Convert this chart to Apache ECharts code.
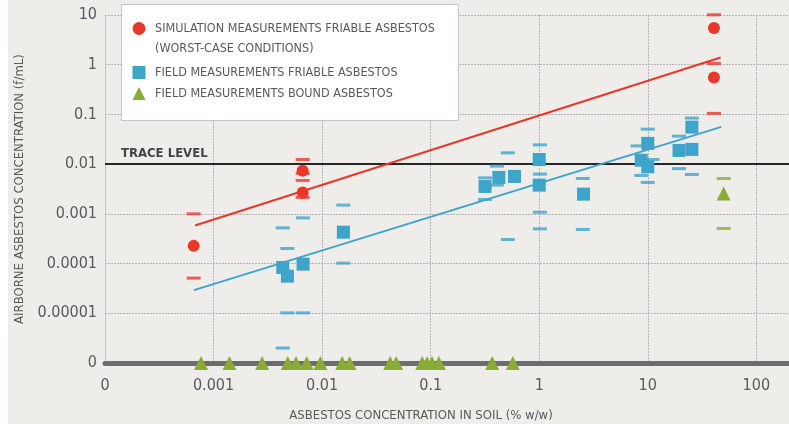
<!DOCTYPE html>
<html>
<head>
<meta charset="utf-8">
<script src="https://cdn.jsdelivr.net/npm/echarts@6/dist/echarts.min.js"></script>
<style>
html,body{margin:0;padding:0;background:#fff;}
#chart{width:789px;height:424px;}
</style>
</head>
<body>
<div id="chart"></div>
<script>
// ---- data ----
const ZERO_Y = 1e-6;   // plotted position of the "0" row on the y axis
const ZERO_X = 1e-4;   // plotted position of the "0" column on the x axis

// Simulation measurements friable asbestos (worst-case)
const simX = [0.000656, 0.00662, 0.00662, 40.7, 40.7];
const simY = [0.000227, 0.00733, 0.0027, 5.45, 0.555];
const simBarX = [0.000656, 0.000656, 0.00662, 0.00662, 0.00662, 0.00662, 40.7, 40.7, 40.7];
const simBarY = [0.001, 5.1e-5, 0.0124, 0.0065, 0.0047, 0.00214, 10.1, 1.06, 0.105];

// Field measurements friable asbestos
const fieldX = [0.00434, 0.00479, 0.00668, 0.0157, 0.317, 0.425, 0.592, 1.0, 1.0, 2.56, 8.71, 10.0, 10.0, 19.4, 25.5, 25.5];
const fieldY = [8.35e-5, 5.58e-5, 9.72e-5, 4.28e-4, 0.00356, 0.0054, 0.00566, 0.0124, 0.00378, 0.00249, 0.012, 0.00883, 0.0261, 0.0189, 0.0555, 0.0198];
const fieldBarX = [0.00434, 0.00434, 0.00479, 0.00479, 0.00668, 0.00668, 0.0157, 0.0157,
  0.317, 0.317, 0.407, 0.407, 0.514, 0.514, 1.015, 1.015, 1.015, 1.015, 2.52, 2.52,
  10.0, 8.05, 11.07, 8.71, 10.0, 19.4, 19.4, 25.5, 25.5];
const fieldBarY = [5.23e-4, 2.0e-6, 2.01e-4, 1.02e-5, 8.3e-4, 1.02e-5, 1.5e-3, 1.02e-4,
  0.0053, 0.00195, 0.00912, 0.00378, 0.01687, 3.05e-4, 0.0244, 0.0063, 0.00108, 5.0e-4, 0.00515, 4.86e-4,
  0.0506, 0.0233, 0.0124, 0.00593, 0.00428, 0.0366, 0.00812, 0.0843, 0.0062];

// Field measurements bound asbestos
const boundX = [7.67e-4, 1.40e-3, 2.80e-3, 4.82e-3, 5.75e-3, 7.21e-3, 9.64e-3, 0.0153, 0.0179,
  0.0424, 0.0481, 0.0836, 0.0929, 0.103, 0.119, 0.369, 0.571, 50];
const boundY = [ZERO_Y, ZERO_Y, ZERO_Y, ZERO_Y, ZERO_Y, ZERO_Y, ZERO_Y, ZERO_Y, ZERO_Y,
  ZERO_Y, ZERO_Y, ZERO_Y, ZERO_Y, ZERO_Y, ZERO_Y, ZERO_Y, ZERO_Y, 0.00257];
const boundBarX = [50, 50];
const boundBarY = [0.00515, 5.08e-4];

// Trend lines
const simTrendX = [0.000675, 46.9];
const simTrendY = [0.000585, 1.40];
const fieldTrendX = [0.00066, 47.6];
const fieldTrendY = [2.92e-5, 0.0562];

const TRACE_LEVEL = 0.01;

const NAMES = [
  'SIMULATION MEASUREMENTS FRIABLE ASBESTOS',
  'FIELD MEASUREMENTS FRIABLE ASBESTOS',
  'FIELD MEASUREMENTS BOUND ASBESTOS'
];
const NAME2 = '(WORST-CASE CONDITIONS)';

// ---- styling ----
const RED = '#e8382a', BLUE = '#3ea4ca', GREEN = '#8aac37';
const BG = '#eeede9', TXT = '#58595b';
const FONT = "'Liberation Sans Narrow','DejaVu Sans Condensed','Roboto',sans-serif";
const ICON_SQUARE = 'path://M0,0H10V10H0Z';
const ICON_TRIANGLE = 'path://M5,0L10,10H0Z';

const zip = (a, b) => a.map((v, i) => [v, b[i]]);

function decLabel(v, zeroExp) {
  const e = Math.round(Math.log10(v));
  if (Math.abs(Math.log10(v) - e) > 1e-6) return '';
  if (e <= zeroExp) return '0';
  if (e >= 0) return String(Math.pow(10, e));
  return '0.' + '0'.repeat(-e - 1) + '1';
}

const chart = echarts.init(document.getElementById('chart'), null, {renderer: 'canvas'});
const dash = (color) => ({symbol: 'rect', symbolSize: [14, 3], itemStyle: {color: color}});
const legendText = {color: TXT, fontSize: 12.5, fontFamily: FONT};

chart.setOption({
  animation: false,
  backgroundColor: BG,
  textStyle: {fontFamily: FONT},
  grid: {left: 105, right: 0, top: 15, bottom: 61, containLabel: false, outerBoundsMode: 'none'},
  xAxis: {
    type: 'log', logBase: 10, min: ZERO_X, max: 200,
    name: 'ASBESTOS CONCENTRATION IN SOIL (% w/w)',
    nameLocation: 'middle', nameGap: 46,
    nameTextStyle: {color: TXT, fontSize: 13, fontFamily: FONT, padding: [0, 52, 0, 0]},
    axisLine: {show: true, lineStyle: {color: '#6b6c6e', width: 5}},
    axisTick: {show: false},
    axisLabel: {color: TXT, fontSize: 16, fontFamily: FONT, margin: 15,
      formatter: v => decLabel(v, -4)},
    splitLine: {show: true, lineStyle: {color: '#b4b4b4', width: 1, type: [2, 1]}}
  },
  yAxis: {
    type: 'log', logBase: 10, min: ZERO_Y, max: 10,
    name: 'AIRBORNE ASBESTOS CONCENTRATION (f/mL)',
    nameLocation: 'middle', nameGap: 76, nameRotate: 90,
    nameTextStyle: {color: TXT, fontSize: 13, fontFamily: FONT},
    axisLine: {show: true, lineStyle: {color: '#c4c4c4', width: 1}},
    axisTick: {show: false},
    axisLabel: {color: TXT, fontSize: 16, fontFamily: FONT, margin: 8,
      formatter: v => decLabel(v, -6)},
    splitLine: {show: true, lineStyle: {color: '#b4b4b4', width: 1, type: [2, 1]}}
  },
  legend: [
    {
      data: [{name: NAMES[0], icon: 'circle'}],
      left: 132.5, top: 22, padding: 0, orient: 'vertical', z: 10,
      itemWidth: 22, itemHeight: 13, selectedMode: false, symbolKeepAspect: true,
      textStyle: legendText
    },
    {
      data: [{name: NAMES[1], icon: ICON_SQUARE}, {name: NAMES[2], icon: ICON_TRIANGLE}],
      left: 132.5, top: 66, padding: 0, orient: 'vertical', itemGap: 8, z: 10,
      itemWidth: 22, itemHeight: 13, selectedMode: false, symbolKeepAspect: true,
      textStyle: legendText
    }
  ],
  graphic: [
    {type: 'rect', z: -1, silent: true, shape: {x: 0, y: 0, width: 8, height: 424}, style: {fill: '#ffffff'}},
    {type: 'rect', z: 2, silent: true, shape: {x: 121.5, y: 4.5, width: 337, height: 116},
      style: {fill: '#ffffff', stroke: '#c6c6c6', lineWidth: 1}},
    {type: 'text', z: 11, silent: true, left: 155, top: 42,
      style: {text: NAME2, fill: TXT, font: '12.5px ' + FONT}}
  ],
  series: [
    {name: NAMES[0], type: 'scatter', symbol: 'circle', symbolSize: 12, clip: false, z: 4,
      itemStyle: {color: RED, opacity: 1}, data: zip(simX, simY)},
    {name: NAMES[1], type: 'scatter', symbol: 'rect', symbolSize: 13, clip: false, z: 4,
      itemStyle: {color: BLUE, opacity: 1}, data: zip(fieldX, fieldY)},
    {name: NAMES[2], type: 'scatter', symbol: 'triangle', symbolSize: 14, clip: false, z: 4,
      itemStyle: {color: GREEN, opacity: 1}, data: zip(boundX, boundY)},
    Object.assign({name: 'sim-range', type: 'scatter', clip: false, z: 3, data: zip(simBarX, simBarY)}, dash(RED)),
    Object.assign({name: 'field-range', type: 'scatter', clip: false, z: 3, data: zip(fieldBarX, fieldBarY)}, dash(BLUE)),
    Object.assign({name: 'bound-range', type: 'scatter', clip: false, z: 3, data: zip(boundBarX, boundBarY)}, dash(GREEN)),
    {name: 'sim-trend', type: 'line', symbol: 'none', z: 5, silent: true,
      lineStyle: {color: RED, width: 2}, data: zip(simTrendX, simTrendY),
      markLine: {
        silent: true, symbol: 'none', z: 2,
        lineStyle: {color: '#262626', width: 2, type: 'solid'},
        label: {show: true, formatter: 'TRACE LEVEL', position: 'insideStartTop',
          color: '#444', fontSize: 13, fontWeight: 'bold', fontFamily: FONT, distance: [16, 4]},
        data: [{yAxis: TRACE_LEVEL}]
      }},
    {name: 'field-trend', type: 'line', symbol: 'none', z: 5, silent: true,
      lineStyle: {color: BLUE, width: 2}, data: zip(fieldTrendX, fieldTrendY)}
  ]
});
</script>
</body>
</html>
